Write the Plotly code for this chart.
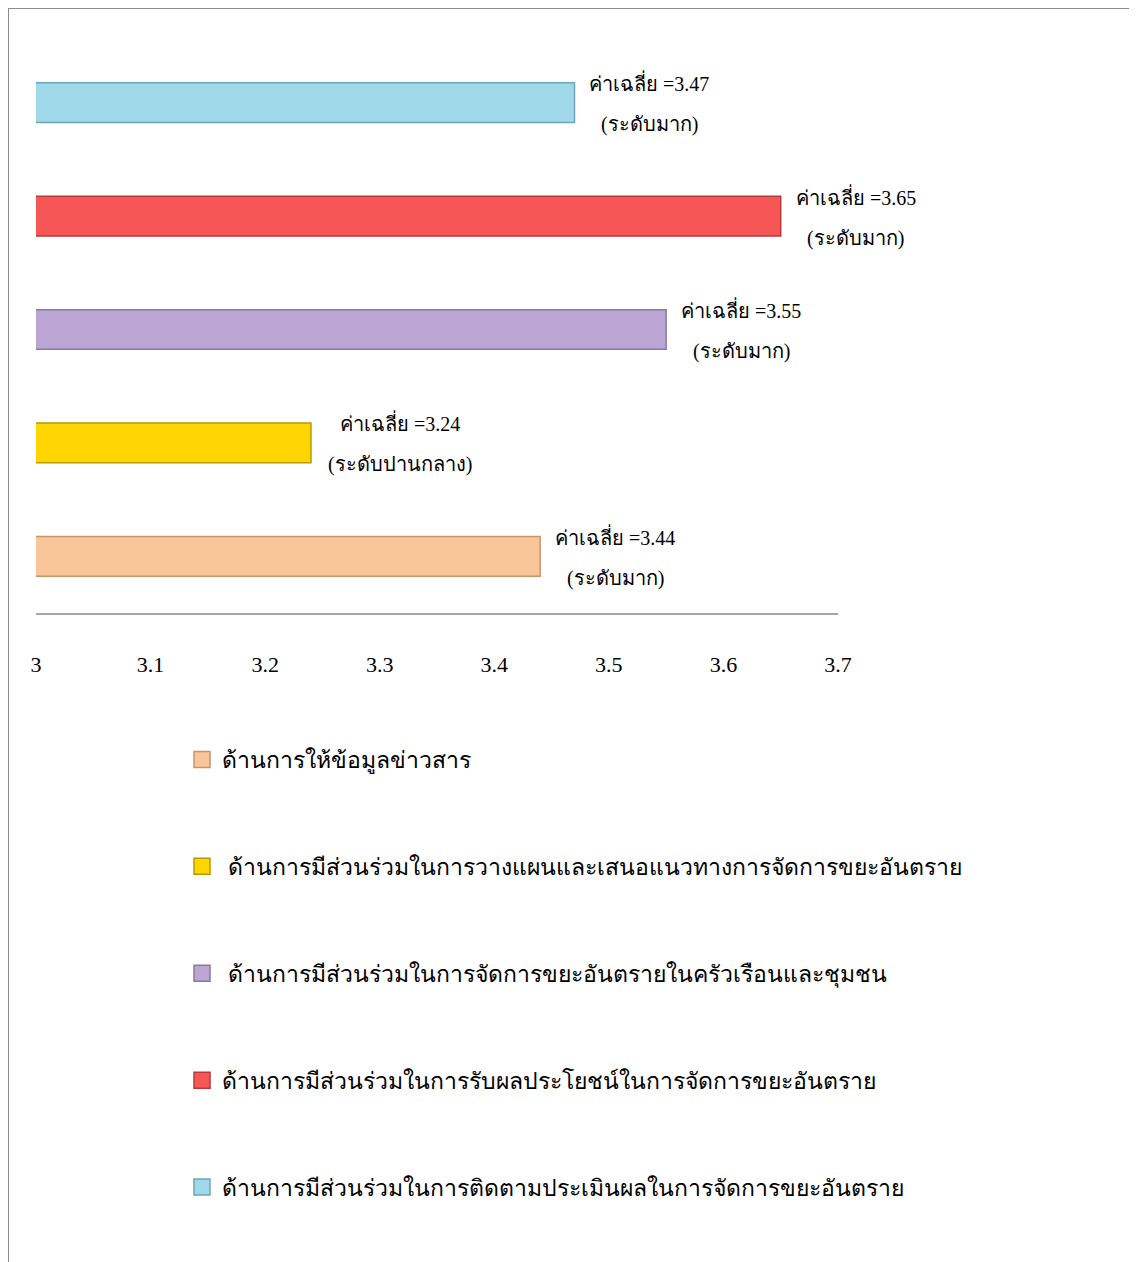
import plotly.graph_objects as go

# ---- data ----
categories = [
    "ด้านการให้ข้อมูลข่าวสาร",
    " ด้านการมีส่วนร่วมในการวางแผนและเสนอแนวทางการจัดการขยะอันตราย",
    " ด้านการมีส่วนร่วมในการจัดการขยะอันตรายในครัวเรือนและชุมชน",
    "ด้านการมีส่วนร่วมในการรับผลประโยชน์ในการจัดการขยะอันตราย",
    "ด้านการมีส่วนร่วมในการติดตามประเมินผลในการจัดการขยะอันตราย",
]
means = [3.44, 3.24, 3.55, 3.65, 3.47]
levels = ["(ระดับมาก)", "(ระดับปานกลาง)", "(ระดับมาก)", "(ระดับมาก)", "(ระดับมาก)"]
colors = ["#F9C69A", "#FFD500", "#BBA6D3", "#F75656", "#A0D9E9"]
edge_colors = ["#C8946A", "#B89A00", "#8A78A3", "#B83A3A", "#6FA5B5"]
tick_vals = [3, 3.1, 3.2, 3.3, 3.4, 3.5, 3.6, 3.7]
tick_text = ["3", "3.1", "3.2", "3.3", "3.4", "3.5", "3.6", "3.7"]

OFF = 8  # page body margin
W, H = 1137 - OFF, 1262 - OFF
ML, MR, MT, MB = 36 - OFF, 1137 - 838, 46 - OFF, 1262 - 613
PW, PH = W - ML - MR, H - MT - MB

def px(x):  # page x pixel -> paper
    return (x - OFF - ML) / PW

def py(y):  # page y pixel -> paper
    return (H - MB - (y - OFF)) / PH

FONT = "Liberation Serif, Times New Roman, serif"

fig = go.Figure()
fig.add_trace(go.Bar(
    y=categories, x=means, orientation="h", width=0.35,
    marker=dict(color=colors, line=dict(color=edge_colors, width=1.5)),
    showlegend=False, hoverinfo="x+y",
))
for i, c in enumerate(categories):
    fig.add_trace(go.Scatter(
        x=[None], y=[None], mode="markers", name=c,
        marker=dict(symbol="square", size=16, color=colors[i],
                    line=dict(color=edge_colors[i], width=1.5)),
        legendgroup=f"g{i}",
    ))

annotations = []
for c, m, lv in zip(categories, means, levels):
    sh = 75 if lv == "(ระดับมาก)" else 89
    annotations.append(dict(x=m, y=c, xref="x", yref="y", text=f"ค่าเฉลี่ย ={m:.2f}",
                            showarrow=False, xanchor="center", xshift=sh,
                            yshift=20, font=dict(family=FONT, size=20, color="#000")))
    annotations.append(dict(x=m, y=c, xref="x", yref="y", text=lv,
                            showarrow=False, xanchor="center", xshift=sh,
                            yshift=-22, font=dict(family=FONT, size=20, color="#000")))
fig.update_layout(annotations=annotations)

fig.update_layout(
    width=W, height=H,
    margin=dict(l=ML, r=MR, t=MT, b=MB),
    paper_bgcolor="white", plot_bgcolor="white",
    font=dict(family=FONT, color="#000"),
    xaxis=dict(range=[3, 3.7], tickvals=tick_vals, ticktext=tick_text,
               showgrid=False, zeroline=False, showline=True, linecolor="#A6A6A6",
               linewidth=2, ticks="", ticklabelstandoff=31,
               tickfont=dict(family=FONT, size=22, color="#000")),
    yaxis=dict(showticklabels=False, showgrid=False, zeroline=False, showline=False,
               categoryorder="array", categoryarray=categories),
    legend=dict(x=px(182), y=py(738), xanchor="left", yanchor="top",
                font=dict(family=FONT, size=23, color="#000"),
                tracegroupgap=74, traceorder="grouped", bgcolor="rgba(0,0,0,0)",
                itemsizing="trace"),
    shapes=[
        dict(type="line", xref="paper", yref="paper", x0=px(8), x1=px(1137), y0=py(8), y1=py(8),
             line=dict(color="#8C8C8C", width=2)),
        dict(type="line", xref="paper", yref="paper", x0=px(8), x1=px(8), y0=py(8), y1=py(1262),
             line=dict(color="#8C8C8C", width=2)),
    ],
)

fig.write_html("out.html")
